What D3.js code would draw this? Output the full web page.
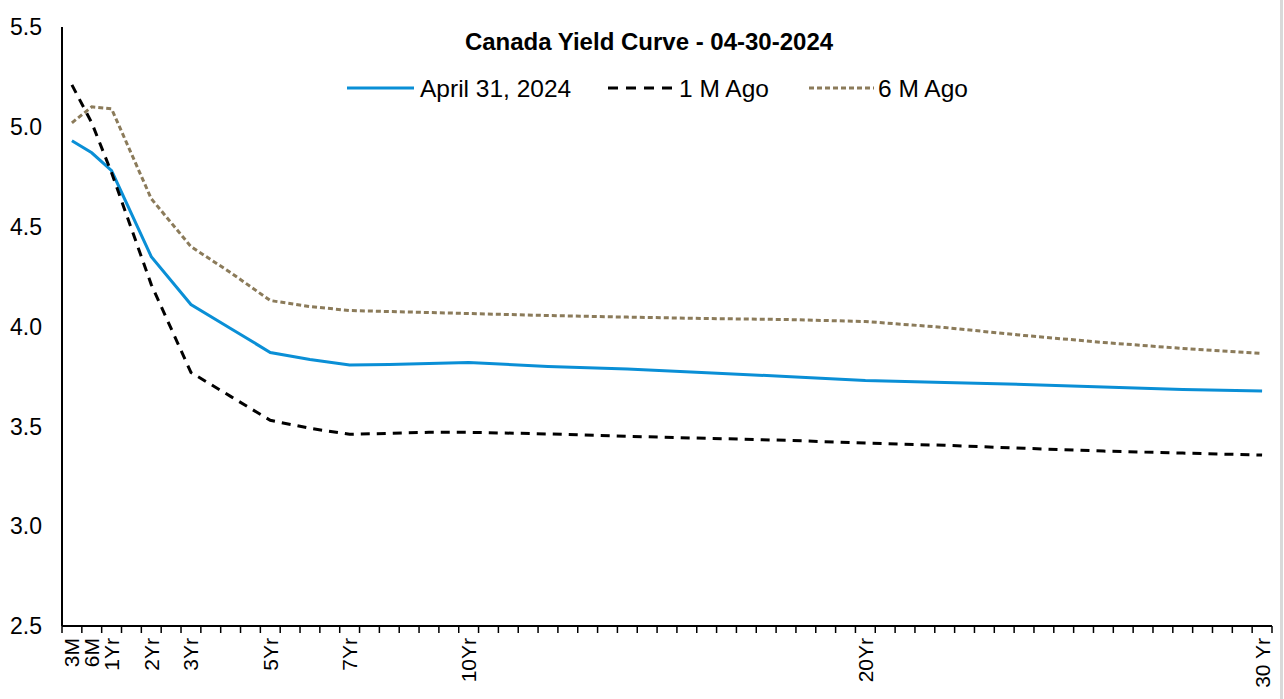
<!DOCTYPE html>
<html>
<head>
<meta charset="utf-8">
<script src="https://cdn.jsdelivr.net/npm/d3@7"></script>
<style>
	body { margin: 0; background: #fff; }
	svg { display: block; font-family: Arial, "Liberation Sans", sans-serif; }
</style>
</head>
<body>
<svg id="chart"></svg>
<script>
var width = 1284,
	height = 699;

// tenors (years) of the points
var tenors = [0.25, 0.5, 1, 2, 3, 4, 5, 6, 7, 8, 9, 10, 12, 14, 16, 18, 20, 22, 24, 26, 28, 30];
var current = [4.93, 4.87, 4.78, 4.35, 4.11, 3.99, 3.87, 3.835, 3.807, 3.81, 3.815, 3.82, 3.8, 3.787, 3.768, 3.75, 3.73, 3.72, 3.71, 3.697, 3.685, 3.677];
var oneMonth = [5.21, 5.02, 4.77, 4.21, 3.77, 3.65, 3.53, 3.49, 3.46, 3.465, 3.47, 3.47, 3.462, 3.45, 3.44, 3.43, 3.416, 3.405, 3.39, 3.376, 3.366, 3.356];
var sixMonth = [5.02, 5.1, 5.09, 4.64, 4.4, 4.27, 4.13, 4.1, 4.08, 4.075, 4.07, 4.065, 4.055, 4.047, 4.04, 4.035, 4.025, 3.995, 3.955, 3.92, 3.89, 3.865];

// axis categories: 3M then every half year to 30Y
var categories = [0.25].concat(d3.range(1, 61).map((i) => i / 2));
var tickLabels = { 0.25: "3M", 0.5: "6M", 1: "1Yr", 2: "2Yr", 3: "3Yr", 5: "5Yr", 7: "7Yr", 10: "10Yr", 20: "20Yr", 30: "30 Yr" };
var yTicks = [2.5, 3.0, 3.5, 4.0, 4.5, 5.0, 5.5];

var series = [
	{ name: "April 31, 2024", values: current, color: "#0a8fd6", dash: null },
	{ name: "1 M Ago", values: oneMonth, color: "#000000", dash: "9,7" },
	{ name: "6 M Ago", values: sixMonth, color: "#8b7b5a", dash: "5,3" },
];

var plotLeft = 62,
	plotRight = 1272,
	plotTop = 27,
	plotBottom = 626;

var svg = d3.select("#chart").attr("width", width).attr("height", height);

var x = d3.scaleBand().domain(categories).range([plotLeft, plotRight]).padding(0);
var y = d3.scaleLinear().domain([2.5, 5.5]).range([plotBottom, plotTop]);

function xPos(t) {
	return x(t) + x.bandwidth() / 2;
}

// right border of chart area
svg.append("line")
	.attr("x1", 1281.5).attr("x2", 1281.5)
	.attr("y1", 0).attr("y2", height)
	.style("stroke", "#d9d9d9")
	.style("stroke-width", 3);

// y axis labels (no tick marks)
svg.append("g")
	.selectAll("text")
	.data(yTicks)
	.enter()
	.append("text")
	.attr("x", 42)
	.attr("y", (d) => y(d))
	.attr("dy", "0.36em")
	.attr("text-anchor", "end")
	.style("font-size", "23px")
	.style("fill", "#000")
	.text((d) => d.toFixed(1));

svg.append("line")
	.attr("x1", plotLeft).attr("x2", plotLeft)
	.attr("y1", plotTop).attr("y2", plotBottom)
	.style("stroke", "#000")
	.style("stroke-width", 2);

// x axis with ticks between categories
var xAxis = svg.append("g").attr("transform", "translate(0," + plotBottom + ")");
xAxis.append("line")
	.attr("x1", plotLeft).attr("x2", plotRight)
	.style("stroke", "#000")
	.style("stroke-width", 2);

var edges = categories.map((c) => x(c)).concat([plotRight]);
xAxis.selectAll(".tick")
	.data(edges)
	.enter()
	.append("line")
	.attr("class", "tick")
	.attr("x1", (d) => d).attr("x2", (d) => d)
	.attr("y1", 0).attr("y2", 7)
	.style("stroke", "#000")
	.style("stroke-width", 1.5);

xAxis.selectAll(".xlabel")
	.data(categories.filter((c) => tickLabels[c]))
	.enter()
	.append("text")
	.attr("class", "xlabel")
	.attr("transform", (d) => "translate(" + xPos(d) + ",12) rotate(-90)")
	.attr("dy", "0.36em")
	.attr("text-anchor", "end")
	.style("font-size", "21px")
	.text((d) => tickLabels[d]);

// curves
var line = d3
	.line()
	.x((d) => xPos(d[0]))
	.y((d) => y(d[1]));

svg.append("g")
	.selectAll("path")
	.data(series)
	.enter()
	.append("path")
	.attr("d", (s) => line(tenors.map((t, i) => [t, s.values[i]])))
	.style("fill", "none")
	.style("stroke", (s) => s.color)
	.style("stroke-width", 3)
	.style("stroke-dasharray", (s) => s.dash);

// title
svg.append("text")
	.attr("x", 649)
	.attr("y", 50)
	.attr("text-anchor", "middle")
	.style("font-size", "24px")
	.style("font-weight", "bold")
	.text("Canada Yield Curve - 04-30-2024");

// legend
var legendPos = [
	{ x1: 347, x2: 414, tx: 420 },
	{ x1: 608, x2: 673, tx: 679 },
	{ x1: 809, x2: 874, tx: 878 },
];
var legend = svg.append("g")
	.selectAll("g")
	.data(series)
	.enter()
	.append("g");

legend.append("line")
	.attr("x1", (d, i) => legendPos[i].x1)
	.attr("x2", (d, i) => legendPos[i].x2)
	.attr("y1", 88).attr("y2", 88)
	.style("stroke", (d) => d.color)
	.style("stroke-width", 3)
	.style("stroke-dasharray", (d, i) => (i == 1 ? "10,8" : d.dash));

legend.append("text")
	.attr("x", (d, i) => legendPos[i].tx)
	.attr("y", 88)
	.attr("dy", "0.36em")
	.style("font-size", "24.5px")
	.text((d) => d.name);
</script>
</body>
</html>
